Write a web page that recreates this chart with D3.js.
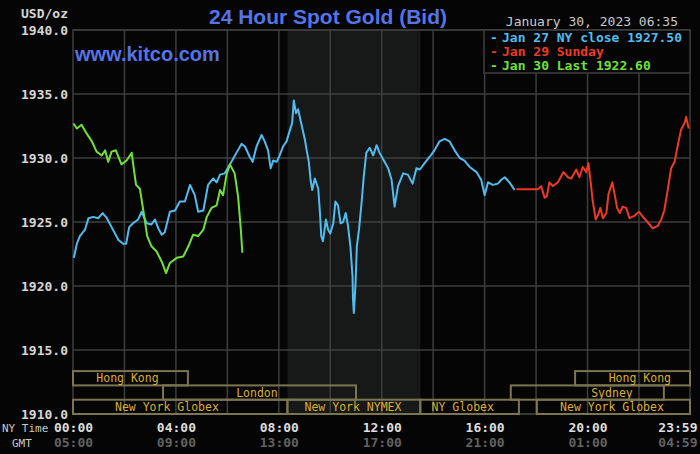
<!DOCTYPE html>
<html>
<head>
<meta charset="utf-8">
<script src="https://cdn.jsdelivr.net/npm/d3@7"></script>
<style>
  body { margin: 0; background: #000; }
  svg { display: block; }
  .mono { font-family: 'DejaVu Sans Mono', 'Liberation Mono', monospace; }
</style>
</head>
<body>
<div class="chart"></div>
<script>
const width = 700;
const height = 454;

// times are minutes after 00:00 New York time, prices in USD/oz
const blueT = [2, 9, 16, 28, 36, 47, 59, 69, 79, 90, 106, 117, 124, 131, 140, 152, 160, 172, 183, 191, 199, 207, 214, 226, 238, 249, 261, 273, 284, 292, 304, 315, 327, 335, 343, 354, 366, 381, 393, 401, 412, 419, 428, 440, 447, 455, 461, 467, 475, 482, 490, 498, 506, 511, 515, 520, 525, 533, 541, 545, 550, 554, 558, 564, 572, 576, 579, 583, 590, 595, 600, 607, 612, 618, 624, 630, 636, 641, 647, 652, 653, 655, 659, 662, 667, 673, 678, 684, 692, 700, 708, 715, 725, 735, 743, 750, 758, 770, 781, 792, 801, 809, 820, 832, 843, 855, 867, 878, 890, 902, 913, 925, 941, 952, 960, 968, 979, 991, 999, 1007, 1018, 1030];
const blueP = [1922.2, 1923.3, 1923.9, 1924.4, 1925.3, 1925.4, 1925.3, 1925.7, 1925.3, 1924.6, 1923.6, 1923.3, 1923.3, 1924.6, 1924.9, 1925.2, 1925.8, 1924.9, 1924.8, 1925.2, 1924.5, 1924.0, 1924.2, 1925.8, 1925.9, 1926.6, 1926.6, 1927.9, 1927.1, 1925.8, 1925.9, 1927.9, 1928.4, 1928.1, 1928.7, 1928.8, 1929.5, 1930.4, 1931.1, 1930.9, 1930.1, 1929.7, 1930.9, 1931.8, 1931.3, 1930.6, 1929.2, 1929.8, 1929.7, 1930.2, 1930.9, 1931.3, 1932.2, 1932.7, 1934.5, 1933.5, 1933.8, 1932.6, 1931.4, 1930.6, 1929.7, 1928.3, 1927.5, 1928.4, 1927.6, 1925.7, 1923.9, 1923.5, 1925.2, 1924.4, 1924.1, 1924.9, 1926.6, 1926.3, 1924.9, 1925.0, 1925.7, 1924.8, 1923.1, 1920.7, 1919.0, 1917.9, 1920.2, 1923.1, 1924.4, 1926.5, 1928.5, 1930.4, 1930.8, 1930.2, 1931.0, 1930.4, 1929.8, 1929.2, 1928.3, 1926.2, 1927.8, 1928.8, 1928.7, 1928.0, 1929.2, 1929.1, 1929.6, 1930.1, 1930.6, 1931.3, 1931.5, 1931.3, 1930.6, 1930.0, 1929.8, 1929.3, 1928.9, 1928.3, 1927.1, 1928.1, 1927.9, 1928.0, 1928.3, 1928.5, 1928.1, 1927.5];

const redT = [1034, 1084, 1092, 1100, 1105, 1111, 1119, 1131, 1144, 1154, 1162, 1174, 1181, 1189, 1197, 1202, 1206, 1212, 1219, 1224, 1230, 1236, 1244, 1249, 1258, 1263, 1269, 1275, 1282, 1290, 1298, 1310, 1320, 1329, 1340, 1352, 1364, 1372, 1379, 1387, 1395, 1403, 1410, 1418, 1426, 1430, 1436];
const redP = [1927.55, 1927.55, 1927.8, 1926.9, 1927.0, 1928.1, 1927.8, 1928.1, 1928.9, 1928.5, 1928.4, 1929.1, 1928.5, 1929.3, 1928.9, 1929.6, 1928.5, 1926.7, 1925.2, 1925.5, 1926.1, 1925.3, 1925.7, 1927.2, 1928.1, 1927.2, 1926.1, 1925.7, 1926.2, 1926.1, 1925.3, 1925.5, 1925.8, 1925.4, 1925.0, 1924.5, 1924.7, 1925.2, 1925.9, 1927.5, 1929.2, 1929.7, 1930.9, 1932.2, 1932.7, 1933.2, 1932.3];

const greenT = [1, 9, 20, 32, 44, 55, 67, 75, 82, 90, 100, 113, 125, 137, 140, 147, 156, 164, 173, 183, 195, 207, 217, 226, 242, 257, 269, 280, 292, 304, 312, 323, 335, 343, 350, 358, 366, 377, 385, 391, 395];
const greenP = [1932.7, 1932.3, 1932.6, 1931.9, 1931.3, 1930.5, 1930.2, 1930.6, 1929.7, 1930.5, 1930.6, 1929.5, 1929.8, 1930.4, 1929.6, 1927.9, 1927.6, 1925.9, 1923.9, 1923.1, 1922.7, 1921.9, 1921.0, 1921.8, 1922.2, 1922.3, 1923.1, 1924.0, 1923.9, 1924.4, 1925.4, 1926.1, 1926.3, 1927.5, 1927.1, 1928.7, 1929.5, 1928.8, 1927.0, 1924.6, 1922.6];

const yTicks = [1910, 1915, 1920, 1925, 1930, 1935, 1940];
const xGrid = [120, 240, 360, 480, 600, 720, 840, 960, 1080, 1200, 1320];
const xTicks = [0, 240, 480, 720, 960, 1200, 1439];
const nyLabels = ['00:00', '04:00', '08:00', '12:00', '16:00', '20:00', '23:59'];
const gmtLabels = ['05:00', '09:00', '13:00', '17:00', '21:00', '01:00', '04:59'];

const legendNames = ['Jan 27 NY close 1927.50', 'Jan 29 Sunday', 'Jan 30 Last 1922.60'];

// trading sessions: name, row, start, end, label anchor (minutes)
const sessName = ['Hong Kong', 'London', 'New York Globex', 'New York NYMEX', 'NY Globex', 'Sydney', 'Hong Kong', 'New York Globex'];
const sessRow = [0, 1, 2, 2, 2, 1, 0, 2];
const sessStart = [0, 210, 0, 500, 810, 1021, 1171, 1082];
const sessEnd = [268, 660, 500, 810, 1040, 1378, 1439, 1439];
const sessLabel = [127, 429, 219, 653, 909, 1257, 1322, 1257];
const nymexHours = [500, 810];

const colors = ['#50bcf0', '#ec3a26', '#72e03a'];

const plotL = 73, plotR = 690, plotT = 30, plotB = 414;

const xScale = d3.scaleLinear().domain([0, 1439]).range([plotL, plotR]);
const yScale = d3.scaleLinear().domain([1910, 1940]).range([plotB, plotT]);

const svg = d3.select('.chart').append('svg')
  .attr('width', width)
  .attr('height', height);

svg.append('rect').attr('width', width).attr('height', height).attr('fill', '#050506');

// NYMEX shading
svg.append('rect')
  .attr('x', xScale(nymexHours[0]))
  .attr('y', plotT)
  .attr('width', xScale(nymexHours[1]) - xScale(nymexHours[0]))
  .attr('height', plotB - plotT)
  .attr('fill', '#161917');

// grid
svg.append('g').selectAll('line').data(yTicks).enter().append('line')
  .attr('x1', plotL).attr('x2', plotR)
  .attr('y1', d => yScale(d)).attr('y2', d => yScale(d))
  .attr('stroke', '#3e3e3e').attr('stroke-width', 1.5);
svg.append('g').selectAll('line').data(xGrid).enter().append('line')
  .attr('x1', d => xScale(d)).attr('x2', d => xScale(d))
  .attr('y1', plotT).attr('y2', plotB)
  .attr('stroke', '#3e3e3e').attr('stroke-width', 1.5);
svg.append('rect')
  .attr('x', plotL).attr('y', plotT)
  .attr('width', plotR - plotL).attr('height', plotB - plotT)
  .attr('fill', 'none').attr('stroke', '#3e3e3e').attr('stroke-width', 1.5);

// sessions
const rowH = 14.3;
const rowTop = r => plotB - (3 - r) * rowH;
const sess = svg.append('g').attr('class', 'mono');
sessName.forEach((name, i) => {
  sess.append('rect')
    .attr('x', xScale(sessStart[i]))
    .attr('y', rowTop(sessRow[i]))
    .attr('width', xScale(sessEnd[i]) - xScale(sessStart[i]))
    .attr('height', rowH)
    .attr('fill', 'none')
    .attr('stroke', '#7c7650')
    .attr('stroke-width', 2);
  sess.append('text')
    .attr('x', xScale(sessLabel[i]))
    .attr('y', rowTop(sessRow[i]) + rowH / 2 + 4)
    .attr('text-anchor', 'middle')
    .attr('font-size', '11.5px')
    .attr('fill', '#dcae34')
    .text(name);
});

// price lines
const line = d3.line().x(d => xScale(d[0])).y(d => yScale(d[1]));
const series = [
  d3.zip(blueT, blueP),
  d3.zip(redT, redP),
  d3.zip(greenT, greenP)
];
series.forEach((s, i) => {
  svg.append('path')
    .datum(s)
    .attr('d', line)
    .attr('fill', 'none')
    .attr('stroke', colors[i])
    .attr('stroke-width', 2)
    .attr('stroke-linejoin', 'round');
});

// y axis
const yAxis = d3.axisLeft(yScale).tickValues(yTicks).tickFormat(d => d.toFixed(1)).tickSize(0).tickPadding(5);
const yg = svg.append('g').attr('transform', `translate(${plotL},0)`).call(yAxis);
yg.select('.domain').remove();
yg.selectAll('text')
  .attr('class', 'mono')
  .style('font-size', '13px')
  .style('font-weight', 'bold')
  .attr('fill', '#d6d6d6');

svg.append('text')
  .attr('class', 'mono')
  .attr('x', 68).attr('y', 18)
  .attr('text-anchor', 'end')
  .attr('font-size', '13px')
  .attr('font-weight', 'bold')
  .attr('fill', '#d6d6d6')
  .text('USD/oz');

// x axis labels (NY time and GMT)
const xNy = d3.axisBottom(xScale).tickValues(xTicks).tickFormat((d, i) => nyLabels[i]).tickSize(0).tickPadding(0);
const xg = svg.append('g').attr('transform', 'translate(0,422)').call(xNy);
xg.select('.domain').remove();
xg.selectAll('text').attr('class', 'mono').style('font-size', '13px').style('font-weight', 'bold').attr('fill', '#dedede').attr('dy', '0.75em');

const xGmt = d3.axisBottom(xScale).tickValues(xTicks).tickFormat((d, i) => gmtLabels[i]).tickSize(0).tickPadding(0);
const xg2 = svg.append('g').attr('transform', 'translate(0,437)').call(xGmt);
xg2.select('.domain').remove();
xg2.selectAll('text').attr('class', 'mono').style('font-size', '13px').style('font-weight', 'bold').attr('fill', '#626262').attr('dy', '0.75em');

[xg, xg2].forEach(g => {
  g.selectAll('.tick').filter(d => d === 1439).select('text').attr('text-anchor', 'end').attr('x', 7);
  g.selectAll('.tick').filter(d => d === 0).select('text').attr('x', 0);
});

svg.append('text').attr('class', 'mono')
  .attr('x', 2).attr('y', 432)
  .attr('font-size', '11px').attr('fill', '#c8c8c8')
  .text('NY Time');
svg.append('text').attr('class', 'mono')
  .attr('x', 12).attr('y', 447)
  .attr('font-size', '11px').attr('fill', '#c8c8c8')
  .text('GMT');

// titles
svg.append('text')
  .attr('x', 328).attr('y', 24)
  .attr('text-anchor', 'middle')
  .attr('font-family', "'Liberation Sans', Arial, sans-serif")
  .attr('font-size', '21px')
  .attr('font-weight', 'bold')
  .attr('fill', '#5674e6')
  .text('24 Hour Spot Gold (Bid)');

svg.append('text')
  .attr('x', 75).attr('y', 61)
  .attr('font-family', "'Liberation Sans', Arial, sans-serif")
  .attr('font-size', '20px')
  .attr('font-weight', 'bold')
  .attr('fill', '#5674e6')
  .text('www.kitco.com');

svg.append('text').attr('class', 'mono')
  .attr('x', 678).attr('y', 26)
  .attr('text-anchor', 'end')
  .attr('font-size', '13px')
  .attr('fill', '#cacaca')
  .text('January 30, 2023 06:35');

// legend
const lg = svg.append('g').attr('class', 'mono');
lg.append('rect')
  .attr('x', 484).attr('y', plotT)
  .attr('width', plotR - 484).attr('height', 43)
  .attr('fill', '#050506')
  .attr('stroke', '#3e3e3e').attr('stroke-width', 1.5);
legendNames.forEach((name, i) => {
  lg.append('text')
    .attr('x', 490).attr('y', 42 + i * 14)
    .attr('font-size', '13px').attr('font-weight', 'bold')
    .attr('fill', colors[i])
    .text('-');
  lg.append('text')
    .attr('x', 502).attr('y', 42 + i * 14)
    .attr('font-size', '13px').attr('font-weight', 'bold')
    .attr('fill', colors[i])
    .text(name);
});
</script>
</body>
</html>
